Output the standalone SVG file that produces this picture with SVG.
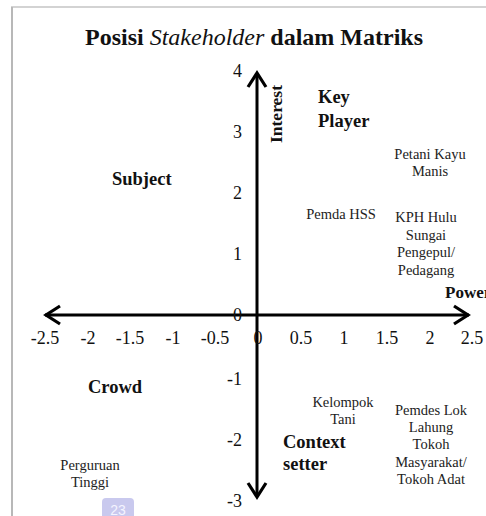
<svg xmlns="http://www.w3.org/2000/svg" width="486" height="516" viewBox="0 0 486 516">
<style>
.t{font-family:"Liberation Serif","Times New Roman",serif;fill:#111}
.n{font-size:18px}
.s{font-size:14.5px;text-anchor:middle;fill:#222}
.b{font-size:18.5px;font-weight:bold}
.ax{stroke:#000;stroke-width:3;fill:none}
.hd{stroke:#000;stroke-width:3.2;fill:none;stroke-linecap:butt;stroke-linejoin:miter}
</style>
<rect width="486" height="516" fill="#fff"/>
<g id="frame">
<line x1="11" y1="7" x2="486" y2="7" stroke="#c4c4c4" stroke-width="1.5"/>
<line x1="12" y1="7" x2="12" y2="516" stroke="#b8b8b8" stroke-width="2"/>
</g>
<text id="title" class="t" x="254" y="45" text-anchor="middle" font-size="24" font-weight="bold">Posisi <tspan font-style="italic" font-weight="normal">Stakeholder</tspan> dalam Matriks</text>
<g id="connectors">
<line class="ax" x1="257" y1="73" x2="257" y2="497"/>
<polyline class="hd" points="248,87 257,73 266,87"/>
<polyline class="hd" points="248,483 257,497 266,483"/>
<line class="ax" x1="45" y1="315" x2="469" y2="315"/>
<polyline class="hd" points="60,306 46,315 60,324"/>
<polyline class="hd" points="454,306 468,315 454,324"/>
</g>
<g id="yticks" class="t n" text-anchor="end">
<text x="242" y="77">4</text>
<text x="242" y="138">3</text>
<text x="242" y="199">2</text>
<text x="242" y="260">1</text>
<text x="242" y="321">0</text>
<text x="242" y="385">-1</text>
<text x="242" y="446">-2</text>
<text x="242" y="507">-3</text>
</g>
<g id="xticks" class="t n" text-anchor="middle">
<text x="45" y="344">-2.5</text>
<text x="88" y="344">-2</text>
<text x="130" y="344">-1.5</text>
<text x="173" y="344">-1</text>
<text x="215" y="344">-0.5</text>
<text x="258" y="344">0</text>
<text x="301" y="344">0.5</text>
<text x="344" y="344">1</text>
<text x="387" y="344">1.5</text>
<text x="430" y="344">2</text>
<text x="472" y="344">2.5</text>
</g>
<g id="interest"><text class="t" font-size="17.5" font-weight="bold" text-anchor="middle" transform="translate(282,114) rotate(-90)">Interest</text></g>
<g id="power"><text class="t" font-size="17" font-weight="bold" x="445" y="298">Power</text></g>
<g id="keyplayer" class="t b"><text x="318" y="103">Key</text><text x="318" y="127">Player</text></g>
<g id="subject" class="t b"><text x="112" y="185">Subject</text></g>
<g id="crowd" class="t b"><text x="88" y="393">Crowd</text></g>
<g id="contextsetter" class="t b"><text x="283" y="448">Context</text><text x="283" y="470">setter</text></g>
<g id="petani" class="t s"><text x="430" y="159">Petani Kayu</text><text x="430" y="176">Manis</text></g>
<g id="pemdahss" class="t s"><text x="341" y="219">Pemda HSS</text></g>
<g id="kph" class="t s"><text x="426" y="222">KPH Hulu</text><text x="426" y="240">Sungai</text><text x="426" y="257">Pengepul/</text><text x="426" y="275">Pedagang</text></g>
<g id="kelompok" class="t s"><text x="343" y="407">Kelompok</text><text x="343" y="424">Tani</text></g>
<g id="pemdes" class="t s"><text x="431" y="415">Pemdes Lok</text><text x="431" y="432">Lahung</text><text x="431" y="449">Tokoh</text><text x="431" y="467">Masyarakat/</text><text x="431" y="484">Tokoh Adat</text></g>
<g id="perguruan" class="t s"><text x="90" y="470">Perguruan</text><text x="90" y="487">Tinggi</text></g>
<g id="badge">
<rect x="102" y="498" width="32" height="26" rx="4" fill="#c9c9ee"/>
<text x="118" y="515" font-family="'Liberation Sans',Arial,sans-serif" font-size="14" fill="#f4f4ff" text-anchor="middle">23</text>
</g>
</svg>
